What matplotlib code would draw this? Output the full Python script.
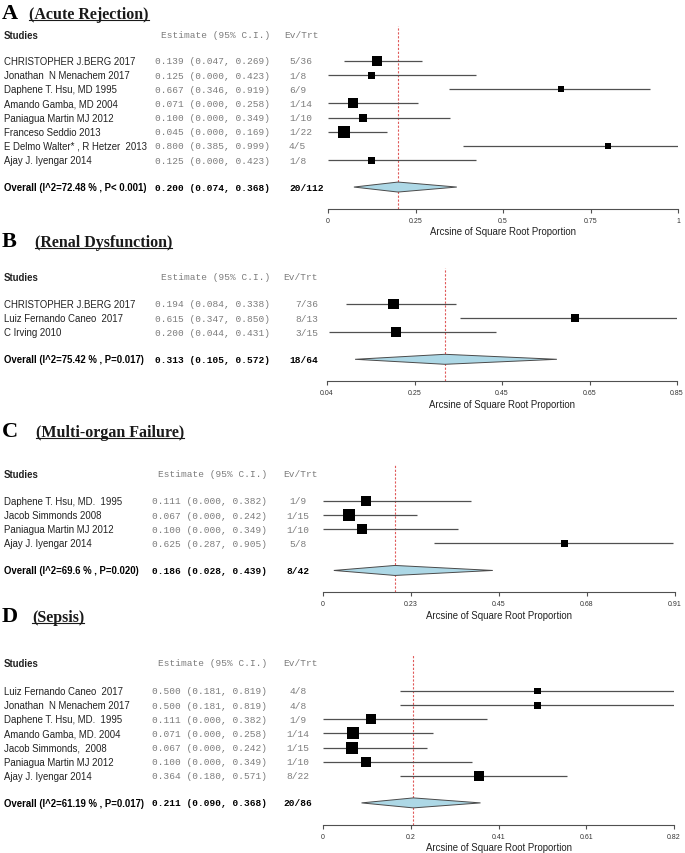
import numpy as np
import matplotlib
matplotlib.use("Agg")
import matplotlib.pyplot as plt
from matplotlib.transforms import blended_transform_factory
from matplotlib.lines import Line2D
from matplotlib.patches import Polygon

# ---- data ----
names_A = ["CHRISTOPHER J.BERG 2017", "Jonathan  N Menachem 2017", "Daphene T. Hsu, MD 1995",
           "Amando Gamba, MD 2004", "Paniagua Martin MJ 2012", "Franceso Seddio 2013",
           "E Delmo Walter* , R Hetzer  2013", "Ajay J. Iyengar 2014"]
est_A = [0.139, 0.125, 0.667, 0.071, 0.100, 0.045, 0.800, 0.125]
lo_A = [0.047, 0.000, 0.346, 0.000, 0.000, 0.000, 0.385, 0.000]
hi_A = [0.269, 0.423, 0.919, 0.258, 0.349, 0.169, 0.999, 0.423]
ev_A = ["5/36", "1/8", "6/9", "1/14", "1/10", "1/22", "4/5", "1/8"]
wt_A = [17.4, 8.5, 6.3, 17.4, 11.1, 25.0, 6.3, 8.5]
overall_A = ["Overall (I^2=72.48 % , P< 0.001)", 0.200, 0.074, 0.368, "20/112"]
ticks_A = ["0", "0.25", "0.5", "0.75", "1"]
xlim_A = (0.0, 1.0)

names_B = ["CHRISTOPHER J.BERG 2017", "Luiz Fernando Caneo  2017", "C Irving 2010"]
est_B = [0.194, 0.615, 0.200]
lo_B = [0.084, 0.347, 0.044]
hi_B = [0.338, 0.850, 0.431]
ev_B = ["7/36", "8/13", "3/15"]
wt_B = [21.0, 11.1, 17.4]
overall_B = ["Overall (I^2=75.42 % , P=0.017)", 0.313, 0.105, 0.572, "18/64"]
ticks_B = ["0.04", "0.25", "0.45", "0.65", "0.85"]
xlim_B = (0.04, 0.85)

names_C = ["Daphene T. Hsu, MD.  1995", "Jacob Simmonds 2008", "Paniagua Martin MJ 2012",
           "Ajay J. Iyengar 2014"]
est_C = [0.111, 0.067, 0.100, 0.625]
lo_C = [0.000, 0.000, 0.000, 0.287]
hi_C = [0.382, 0.242, 0.349, 0.905]
ev_C = ["1/9", "1/15", "1/10", "5/8"]
wt_C = [17.4, 25.0, 17.4, 8.5]
overall_C = ["Overall (I^2=69.6 % , P=0.020)", 0.186, 0.028, 0.439, "8/42"]
ticks_C = ["0", "0.23", "0.45", "0.68", "0.91"]
xlim_C = (0.0, 0.91)

names_D = ["Luiz Fernando Caneo  2017", "Jonathan  N Menachem 2017", "Daphene T. Hsu, MD.  1995",
           "Amando Gamba, MD. 2004", "Jacob Simmonds,  2008", "Paniagua Martin MJ 2012",
           "Ajay J. Iyengar 2014"]
est_D = [0.500, 0.500, 0.111, 0.071, 0.067, 0.100, 0.364]
lo_D = [0.181, 0.181, 0.000, 0.000, 0.000, 0.000, 0.180]
hi_D = [0.819, 0.819, 0.382, 0.258, 0.242, 0.349, 0.571]
ev_D = ["4/8", "4/8", "1/9", "1/14", "1/15", "1/10", "8/22"]
wt_D = [8.5, 8.5, 17.4, 25.0, 25.0, 17.4, 17.4]
overall_D = ["Overall (I^2=61.19 % , P=0.017)", 0.211, 0.090, 0.368, "20/86"]
ticks_D = ["0", "0.2", "0.41", "0.61", "0.82"]
xlim_D = (0.0, 0.82)

letters = ["A", "B", "C", "D"]
subtitles = ["(Acute Rejection)", "(Renal Dysfunction)", "(Multi-organ Failure)", "(Sepsis)"]

# ---- figure setup (pixel layout) ----
W, H = 685, 854
fig = plt.figure(figsize=(W / 100, H / 100), dpi=100)

SANS = "Liberation Sans"
MONO = "Liberation Mono"
SERIF = "Liberation Serif"
GRAY = "#7c7c7c"
PITCH = 14.15
FS = 6.9

# title baseline, header y, first row y, axis x0, axis x1, subtitle x, estimate right, ev x, ev align
layout = [
    (19, 36, 62, 328, 678, 29, 270, 289, "left"),
    (247, 278, 305, 327, 677, 35, 270, 318, "right"),
    (437, 475, 502, 323, 675, 36, 267, 298, "center"),
    (622, 664, 692, 323, 674, 32, 267, 298, "center"),
]

panels = [
    (names_A, est_A, lo_A, hi_A, ev_A, wt_A, overall_A, ticks_A, xlim_A),
    (names_B, est_B, lo_B, hi_B, ev_B, wt_B, overall_B, ticks_B, xlim_B),
    (names_C, est_C, lo_C, hi_C, ev_C, wt_C, overall_C, ticks_C, xlim_C),
    (names_D, est_D, lo_D, hi_D, ev_D, wt_D, overall_D, ticks_D, xlim_D),
]

subs = []
for k in range(4):
    names, est, lo, hi, ev, wt, ov, tks, xl = panels[k]
    tb, hy, ry, x0, x1, tx, est_r, ev_x, ev_ha = layout[k]
    n = len(names)
    rows = ry + PITCH * np.arange(n)
    oy = rows[-1] + 27
    axis_y = oy + 22
    top = hy - 9

    ax = fig.add_axes([x0 / W, 1 - axis_y / H, (x1 - x0) / W, (axis_y - top) / H])
    ax.set_xlim(xl)
    ax.set_ylim(axis_y, top)
    ax.patch.set_alpha(0)

    # study rows
    ax.hlines(rows, lo, hi, color="#505050", lw=0.9, zorder=2)
    side = 2.4 * np.sqrt(np.array(wt)) * 0.72
    ax.scatter(est, rows, marker="s", s=side ** 2, c="black", linewidths=0, zorder=3)

    # summary diamond + reference line
    lab, oe, ol, oh, oev = ov
    dia = Polygon([(ol, oy), (oe, oy - 5), (oh, oy), (oe, oy + 5)], closed=True,
                  facecolor="#add8e6", edgecolor="#4a4a4a", lw=0.7, zorder=3)
    ax.add_patch(dia)
    ax.axvline(oe, color="#e05a5a", ls=(0, (2, 1.5)), lw=0.8, zorder=1)

    # axis
    for s in ["top", "left", "right"]:
        ax.spines[s].set_visible(False)
    ax.spines["bottom"].set_color("#505050")
    ax.spines["bottom"].set_linewidth(0.8)
    ax.set_yticks([])
    ax.set_xticks(np.linspace(xl[0], xl[1], 5))
    ax.set_xticklabels(tks)
    ax.tick_params(axis="x", length=3, width=0.8, color="#505050", labelsize=5,
                   labelcolor="#333333", pad=2.5)
    for t in ax.get_xticklabels():
        t.set_family(SANS)
    ax.set_xlabel("Arcsine of Square Root Proportion", fontsize=FS, family=SANS,
                  color="#222222", labelpad=2)

    # text columns
    tr = blended_transform_factory(fig.transFigure, ax.transData)
    ax.text(4 / W, hy, "Studies", transform=tr, fontsize=FS, family=SANS,
            weight="bold", va="center", color="#222222")
    ax.text(est_r / W, hy, "Estimate (95% C.I.)", transform=tr, fontsize=FS - 0.1,
            family=MONO, va="center", ha="right", color=GRAY)
    ax.text((ev_x + (0 if ev_ha != "left" else -5)) / W if ev_ha == "left" else
            (ev_x if ev_ha == "right" else ev_x + 3) / W, hy, "Ev/Trt", transform=tr,
            fontsize=FS - 0.1, family=MONO, va="center",
            ha="left" if ev_ha == "left" else ("right" if ev_ha == "right" else "center"),
            color=GRAY)
    for i in range(n):
        ax.text(4 / W, rows[i], names[i], transform=tr, fontsize=FS, family=SANS,
                va="center", color="#222222")
        ax.text(est_r / W, rows[i], f"{est[i]:.3f} ({lo[i]:.3f}, {hi[i]:.3f})",
                transform=tr, fontsize=FS - 0.1, family=MONO, va="center", ha="right",
                color=GRAY)
        ax.text(ev_x / W, rows[i], ev[i], transform=tr, fontsize=FS - 0.1, family=MONO,
                va="center", ha=ev_ha, color=GRAY)
    ax.text(4 / W, oy, lab, transform=tr, fontsize=FS, family=SANS, weight="bold",
            va="center", color="black")
    ax.text(est_r / W, oy, f"{oe:.3f} ({ol:.3f}, {oh:.3f})", transform=tr,
            fontsize=FS - 0.1, family=MONO, weight="bold", va="center", ha="right",
            color="black")
    ax.text(ev_x / W, oy, oev, transform=tr, fontsize=FS - 0.1, family=MONO,
            weight="bold", va="center", ha=ev_ha, color="black")

    # panel title
    fig.text(2 / W, 1 - tb / H, letters[k], family=SERIF, weight="bold", fontsize=16,
             va="baseline", color="black")
    st = fig.text(tx / W, 1 - tb / H, subtitles[k], family=SERIF, weight="bold",
                  fontsize=11.5, va="baseline", color="#1a1a1a")
    subs.append((st, tb))

# underline the subtitles
fig.canvas.draw()
r = fig.canvas.get_renderer()
for st, tb in subs:
    bb = st.get_window_extent(r)
    yy = 1 - (tb + 2) / H
    fig.add_artist(Line2D([bb.x0 / W, bb.x1 / W], [yy, yy], transform=fig.transFigure,
                          color="#1a1a1a", lw=0.8))

fig.savefig("out.png", dpi=100)
